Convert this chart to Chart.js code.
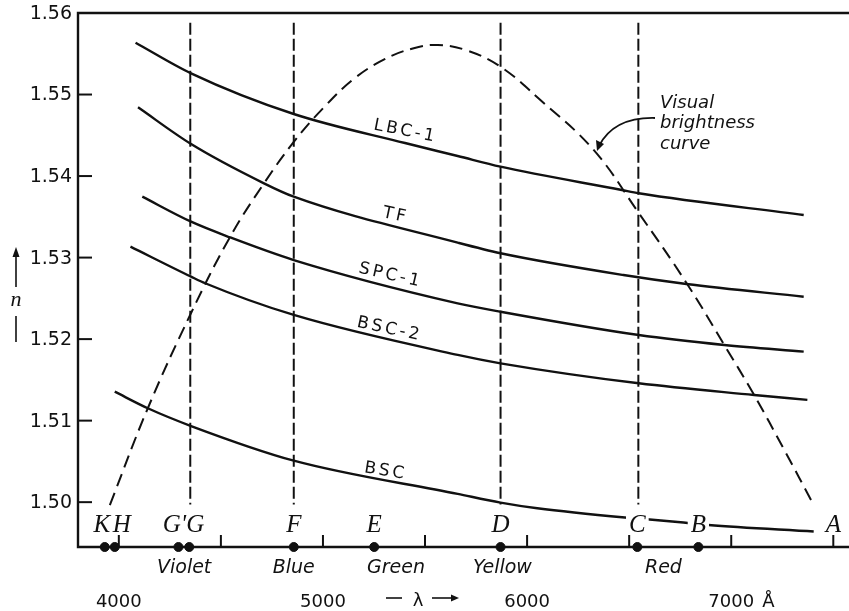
<!DOCTYPE html>
<html><head><meta charset="utf-8">
<script src="https://cdn.jsdelivr.net/npm/chart.js@4.4.1/dist/chart.umd.min.js"></script>
<style>html,body{margin:0;padding:0;background:#fff}</style>
</head><body>
<canvas id="c" width="849" height="611"></canvas>
<script>
// ---- axes ----
const LAMBDA_MIN = 3800, LAMBDA_MAX = 7550;
const N_MIN = 1.4945, N_MAX = 1.56;
const yTicks = [1.50, 1.51, 1.52, 1.53, 1.54, 1.55, 1.56];
const xTicks = [4000, 4500, 5000, 5500, 6000, 6500, 7000, 7500];
const xLabelValues = [4000, 5000, 6000, 7000];
const xLabelTexts = ['4000', '5000', '6000', '7000'];

// ---- Fraunhofer lines (wavelength in Å) ----
const lineNames = ['K', 'H', "G'", 'G', 'F', 'E', 'D', 'C', 'B'];
const lineLambda = [3931, 3980, 4292, 4345, 4857, 5251, 5870, 6540, 6839];
const dashedLineNames = ['G', 'F', 'D', 'C'];
const dashedLineLambda = [4350, 4857, 5870, 6545];
const dashedTop = 1.5588, dashedBottom = 1.4997;

// ---- colour bands ----
const bandNames = ['Violet', 'Blue', 'Green', 'Yellow', 'Red'];
const bandLambda = [4320, 4857, 5358, 5879, 6668];

// ---- refractive index curves: [λ, n] ----
const LBC1 = [[4082,1.55636],[4354,1.55260],[4857,1.54761],[5402,1.54405],[5660,1.54246],[5870,1.54115],[6464,1.53829],[6547,1.53789],[7355,1.53523]];
const TF   = [[4094,1.54843],[4354,1.54393],[4711,1.53911],[4857,1.53747],[5660,1.53183],[5870,1.53053],[6472,1.52786],[6780,1.52676],[7355,1.52520]];
const SPC1 = [[4115,1.53747],[4354,1.53440],[4544,1.53249],[4857,1.52970],[5660,1.52439],[5870,1.52336],[6547,1.52050],[6966,1.51928],[7355,1.51846]];
const BSC2 = [[4057,1.53134],[4354,1.52766],[4423,1.52685],[4857,1.52296],[5660,1.51806],[5870,1.51703],[6547,1.51458],[7112,1.51315],[7373,1.51254]];
const BSC  = [[3980,1.51355],[4142,1.51152],[4354,1.50934],[4857,1.50509],[5660,1.50101],[5870,1.49995],[6050,1.49925],[6479,1.49812],[6600,1.49788],[6766,1.49751],[6888,1.49720],[7404,1.49640]];

// ---- visual brightness curve (dashed), plotted on the n axis ----
const brightness = [[3956,1.49965],[4142,1.51152],[4354,1.52320],[4544,1.53249],[4711,1.53911],[4857,1.54418],[5000,1.54830],[5150,1.55190],[5300,1.55430],[5440,1.55565],[5563,1.55608],[5700,1.55545],[5870,1.55341],[6065,1.54933],[6326,1.54320],[6547,1.53547],[6780,1.52692],[6966,1.51928],[7112,1.51315],[7260,1.50640],[7404,1.49965]];

const seriesNames = ['LBC-1', 'TF', 'SPC-1', 'BSC-2', 'BSC'];
const seriesData = [LBC1, TF, SPC1, BSC2, BSC];

const INK = '#111';
const pts = a => a.map(p => ({x: p[0], y: p[1]}));

const datasets = [];
seriesData.forEach((d, i) => datasets.push({
  label: seriesNames[i], data: pts(d), showLine: true, borderColor: INK,
  borderWidth: 2.4, pointRadius: 0, cubicInterpolationMode: 'monotone', fill: false
}));
datasets.push({
  label: 'Visual brightness curve', data: pts(brightness), showLine: true, borderColor: INK,
  borderWidth: 2, borderDash: [13, 7], pointRadius: 0, tension: 0.4, fill: false
});
dashedLineLambda.forEach((l, i) => datasets.push({
  label: dashedLineNames[i] + ' line', data: [{x: l, y: dashedTop}, {x: l, y: dashedBottom}],
  showLine: true, borderColor: INK, borderWidth: 2, borderDash: [12, 4], pointRadius: 0, fill: false
}));
datasets.push({
  label: 'Fraunhofer lines', data: lineLambda.map(l => ({x: l, y: N_MIN})), showLine: false,
  pointRadius: 4.5, pointBackgroundColor: INK, pointBorderColor: INK, clip: false
});

const labelStyle = [
  // name, λ, n, angle(deg)
  ['LBC-1', 5397, 1.54553, 11],
  ['TF',    5349, 1.53522, 12],
  ['SPC-1', 5324, 1.52786, 13],
  ['BSC-2', 5319, 1.52124, 12],
  ['BSC',   5300, 1.50382, 9]
];
const letterOffsets = {'K': -3, 'H': 7, "G'": -4, 'G': 6};

const decor = {
  id: 'decor',
  beforeDatasetsDraw(chart) {
    const ctx = chart.ctx, a = chart.chartArea;
    const xs = chart.scales.x, ys = chart.scales.y;
    ctx.save();
    ctx.strokeStyle = INK; ctx.lineWidth = 2.4; ctx.lineCap = 'butt';
    ctx.beginPath();
    ctx.moveTo(849, a.top); ctx.lineTo(a.left, a.top); ctx.lineTo(a.left, a.bottom); ctx.lineTo(849, a.bottom);
    ctx.stroke();
    ctx.lineWidth = 2;
    yTicks.forEach(v => {
      if (v >= N_MAX) return;
      const y = ys.getPixelForValue(v);
      ctx.beginPath(); ctx.moveTo(a.left, y); ctx.lineTo(a.left + 14, y); ctx.stroke();
    });
    xTicks.forEach(v => {
      const x = xs.getPixelForValue(v);
      ctx.beginPath(); ctx.moveTo(x, a.bottom); ctx.lineTo(x, a.bottom - 12); ctx.stroke();
    });
    ctx.restore();
  },
  afterDatasetsDraw(chart) {
    const ctx = chart.ctx, a = chart.chartArea;
    const xs = chart.scales.x, ys = chart.scales.y;
    ctx.save();
    ctx.fillStyle = INK; ctx.strokeStyle = INK;
    ctx.font = '19px "DejaVu Sans"';
    ctx.textAlign = 'right'; ctx.textBaseline = 'middle';
    yTicks.forEach(v => ctx.fillText(v.toFixed(2), 72, ys.getPixelForValue(v) + 1));
    ctx.font = '18px "DejaVu Sans"';
    ctx.textAlign = 'center'; ctx.textBaseline = 'alphabetic';
    xLabelValues.forEach((v, i) => ctx.fillText(xLabelTexts[i], xs.getPixelForValue(v), 607));
    ctx.textAlign = 'left';
    ctx.fillText('Å', xs.getPixelForValue(7000) + 31, 607);
    ctx.lineWidth = 1.6;
    ctx.beginPath(); ctx.moveTo(386, 598); ctx.lineTo(402, 598); ctx.stroke();
    ctx.textAlign = 'center';
    ctx.fillText('λ', 418, 606);
    ctx.beginPath(); ctx.moveTo(432, 598); ctx.lineTo(456, 598); ctx.stroke();
    ctx.beginPath(); ctx.moveTo(459, 598); ctx.lineTo(451, 594.5); ctx.lineTo(451, 601.5); ctx.closePath(); ctx.fill();
    ctx.font = 'italic 19px "DejaVu Sans"';
    bandNames.forEach((nm, i) => ctx.fillText(nm, xs.getPixelForValue(bandLambda[i]), 573));
    ctx.font = 'italic 25px "Liberation Serif"';
    const lx = lineNames.map((nm, i) => xs.getPixelForValue(lineLambda[i]) + (letterOffsets[nm] || 0));
    ctx.fillStyle = '#fff';
    lineNames.forEach((nm, i) => {
      const w = ctx.measureText(nm).width;
      ctx.fillRect(lx[i] - w / 2 - 3, 512, w + 6, 22);
    });
    ctx.fillStyle = INK;
    lineNames.forEach((nm, i) => ctx.fillText(nm, lx[i], 532));
    ctx.fillText('A', xs.getPixelForValue(7500), 532);
    ctx.lineWidth = 1.6;
    ctx.beginPath(); ctx.moveTo(16, 287); ctx.lineTo(16, 254); ctx.stroke();
    ctx.beginPath(); ctx.moveTo(16, 247); ctx.lineTo(12.5, 257); ctx.lineTo(19.5, 257); ctx.closePath(); ctx.fill();
    ctx.font = 'italic 22px "Liberation Serif"';
    ctx.fillText('n', 16, 306);
    ctx.beginPath(); ctx.moveTo(16, 316); ctx.lineTo(16, 342); ctx.stroke();
    ctx.font = '17px "DejaVu Sans"';
    ctx.letterSpacing = '3px';
    ctx.textBaseline = 'middle';
    labelStyle.forEach(([nm, l, n, ang]) => {
      ctx.save();
      ctx.translate(xs.getPixelForValue(l), ys.getPixelForValue(n));
      ctx.rotate(ang * Math.PI / 180);
      ctx.fillText(nm, 1.5, 0);
      ctx.restore();
    });
    ctx.letterSpacing = '0px';
    ctx.font = 'italic 18px "DejaVu Sans"';
    ctx.textAlign = 'left'; ctx.textBaseline = 'alphabetic';
    ctx.fillText('Visual', 660, 108);
    ctx.fillText('brightness', 660, 128);
    ctx.fillText('curve', 660, 149);
    ctx.lineWidth = 1.8;
    ctx.beginPath(); ctx.moveTo(655, 118); ctx.quadraticCurveTo(614, 117, 599, 146); ctx.stroke();
    ctx.beginPath(); ctx.moveTo(597, 151); ctx.lineTo(596, 140); ctx.lineTo(604, 144); ctx.closePath(); ctx.fill();
    ctx.restore();
  }
};

new Chart(document.getElementById('c').getContext('2d'), {
  type: 'scatter',
  data: {datasets},
  options: {
    responsive: false, animation: false,
    layout: {padding: {left: 78, right: 1, top: 13, bottom: 64}},
    plugins: {legend: {display: false}, tooltip: {enabled: false}},
    scales: {
      x: {type: 'linear', min: LAMBDA_MIN, max: LAMBDA_MAX, display: false},
      y: {type: 'linear', min: N_MIN, max: N_MAX, display: false}
    }
  },
  plugins: [decor]
});
</script>
</body></html>
